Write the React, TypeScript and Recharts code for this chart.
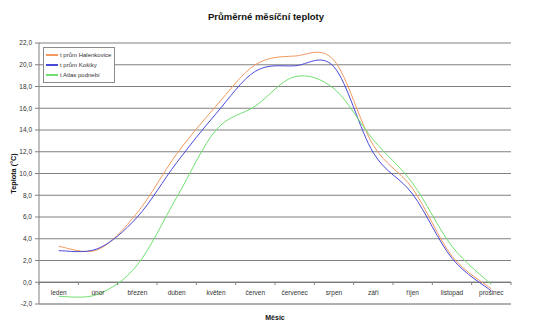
import {
  LineChart,
  Line,
  XAxis,
  YAxis,
  CartesianGrid,
  Legend,
  ReferenceLine,
} from "recharts";

const months = [
  "leden", "únor", "březen", "duben", "květen", "červen",
  "červenec", "srpen", "září", "říjen", "listopad", "prosinec",
];
const halenkovice = [3.3, 3.0, 6.4, 11.8, 16.2, 20.0, 20.8, 20.4, 12.6, 8.6, 2.4, -0.6];
const kosiky = [2.9, 3.1, 6.0, 11.0, 15.5, 19.4, 19.9, 19.8, 11.9, 8.1, 2.2, -0.8];
const atlas = [-1.3, -1.1, 1.6, 7.8, 14.0, 16.2, 18.9, 17.8, 13.1, 9.1, 3.3, -0.2];
const yTicks = [-2, 0, 2, 4, 6, 8, 10, 12, 14, 16, 18, 20, 22];

const series = [
  { key: "hal", name: "t prům Halenkovice", color: "#f29a62" },
  { key: "kos", name: "t prům Košíky", color: "#4a4ad8" },
  { key: "atl", name: "t Atlas podnebí", color: "#70e070" },
];

const data = months.map((m, i) => ({
  month: m,
  hal: halenkovice[i],
  kos: kosiky[i],
  atl: atlas[i],
}));

const font = "'Liberation Sans', Arial, sans-serif";

// Excel-like smoothed line (Catmull-Rom as bezier)
function excelSmooth(context: any) {
  let pts: [number, number][] = [];
  return {
    areaStart() {},
    areaEnd() {},
    lineStart() {
      pts = [];
    },
    lineEnd() {
      if (!pts.length) return;
      context.moveTo(pts[0][0], pts[0][1]);
      for (let i = 0; i < pts.length - 1; i++) {
        const p0 = pts[Math.max(i - 1, 0)];
        const p1 = pts[i];
        const p2 = pts[i + 1];
        const p3 = pts[Math.min(i + 2, pts.length - 1)];
        context.bezierCurveTo(
          p1[0] + (p2[0] - p0[0]) / 6,
          p1[1] + (p2[1] - p0[1]) / 6,
          p2[0] - (p3[0] - p1[0]) / 6,
          p2[1] - (p3[1] - p1[1]) / 6,
          p2[0],
          p2[1]
        );
      }
    },
    point(x: number, y: number) {
      pts.push([x, y]);
    },
  };
}

function MonthTick(props: any) {
  const { x, y, payload, index, width, visibleTicksCount } = props;
  const half = payload.offset || width / visibleTicksCount / 2;
  const zeroY = y - 22;
  return (
    <g>
      <line x1={x - half} x2={x - half} y1={zeroY} y2={zeroY + 3} stroke="#808080" />
      {index === visibleTicksCount - 1 && (
        <line x1={x + half} x2={x + half} y1={zeroY} y2={zeroY + 3} stroke="#808080" />
      )}
      <text x={x} y={y - 9} textAnchor="middle" fontSize={6.5} fill="#333" fontFamily={font}>
        {payload.value}
      </text>
    </g>
  );
}

function LegendBox() {
  return (
    <div
      style={{
        border: "1px solid #8a8a8a",
        background: "#fff",
        padding: "2px",
        width: 66,
        fontFamily: font,
        fontSize: 6,
        color: "#333",
        lineHeight: "10px",
      }}
    >
      {series.map((s) => (
        <div key={s.key} style={{ display: "flex", alignItems: "center" }}>
          <span style={{ display: "inline-block", width: 12, height: 1.5, background: s.color, marginRight: 2 }} />
          <span>{s.name}</span>
        </div>
      ))}
    </div>
  );
}

export default function App() {
  return (
    <div style={{ position: "absolute", left: 0, top: 0, width: 534, height: 331, background: "#fff" }}>
      <div
        style={{
          position: "absolute",
          left: 0,
          width: 534,
          top: 11,
          textAlign: "center",
          fontFamily: font,
          fontWeight: "bold",
          fontSize: 9.5,
          color: "#111",
          paddingRight: 2,
          boxSizing: "border-box",
        }}
      >
        Průměrné měsíční teploty
      </div>
      <LineChart
        width={534}
        height={331}
        data={data}
        margin={{ top: 43, right: 23, bottom: 0, left: 9 }}
      >
        <CartesianGrid horizontal vertical={false} stroke="#808080" />
        <XAxis
          dataKey="month"
          scale="band"
          height={27}
          interval={0}
          tickLine={false}
          tickSize={0}
          tickMargin={0}
          axisLine={{ stroke: "#a0a0a0" }}
          tick={<MonthTick />}
          label={{
            value: "Měsíc",
            position: "insideBottom",
            offset: 11,
            style: { fontFamily: font, fontWeight: "bold", fontSize: 7, fill: "#111" },
          }}
        />
        <YAxis
          domain={[-2, 22]}
          ticks={yTicks}
          width={30}
          interval={0}
          tickSize={4}
          tickMargin={3}
          axisLine={{ stroke: "#808080" }}
          tickLine={{ stroke: "#808080" }}
          tickFormatter={(v: number) => v.toFixed(1).replace(".", ",")}
          tick={{ fontSize: 6.5, fill: "#333", fontFamily: font }}
          label={{
            value: "Teplota (°C)",
            angle: -90,
            position: "center",
            dx: -11,
            style: { fontFamily: font, fontWeight: "bold", fontSize: 7.3, fill: "#111", textAnchor: "middle" },
          }}
        />
        <YAxis
          yAxisId="r"
          orientation="right"
          width={0}
          tick={false}
          tickLine={false}
          axisLine={{ stroke: "#a0a0a0" }}
        />
        <ReferenceLine y={0} stroke="#707070" />
        <Legend
          layout="vertical"
          align="center"
          verticalAlign="middle"
          wrapperStyle={{ top: 47, left: 43, width: 72 }}
          content={<LegendBox />}
        />
        {series.map((s) => (
          <Line
            key={s.key}
            dataKey={s.key}
            name={s.name}
            type={excelSmooth as any}
            stroke={s.color}
            strokeWidth={1}
            dot={false}
            activeDot={false}
            isAnimationActive={false}
          />
        ))}
      </LineChart>
    </div>
  );
}
